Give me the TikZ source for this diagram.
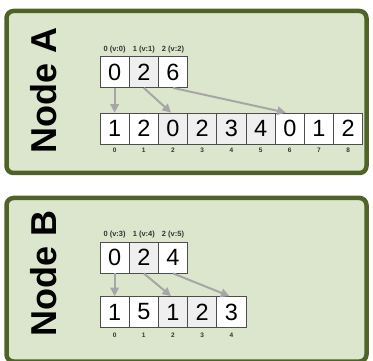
\documentclass[tikz,border=0pt]{standalone}
\usepackage{fontspec}
\setmainfont{Liberation Sans}
\usetikzlibrary{arrows.meta}
\definecolor{panelfill}{HTML}{DCE6CD}
\definecolor{panelborder}{HTML}{4F6228}
\definecolor{cellgray}{HTML}{EFEFEF}
\definecolor{celledge}{HTML}{4D4D4D}
\definecolor{arrowgray}{HTML}{A6A6A6}
\definecolor{labelgray}{HTML}{333333}
\begin{document}
\begin{tikzpicture}[x=1pt,y=-1pt,
  panel/.style={draw=panelborder, fill=panelfill, line width=4.5pt, rounded corners=7pt},
  cell/.style={draw=celledge, line width=0.8pt, fill=white, minimum width=29.2pt, minimum height=31pt, inner sep=0pt, font=\fontsize{23.5}{23.5}\selectfont, text=black},
  graycell/.style={cell, fill=cellgray},
  titletext/.style={rotate=90, font=\fontsize{36}{36}\selectfont\bfseries, inner sep=0pt},
  toplabel/.style={font=\fontsize{7.5}{7.5}\selectfont\bfseries, text=labelgray, inner sep=0pt},
  idx/.style={font=\fontsize{6.5}{6.5}\selectfont\bfseries, text=labelgray, inner sep=0pt},
  ptr/.style={draw=arrowgray, line width=2pt, -{Triangle[length=8.5pt,width=8.5pt]}}
]
\useasboundingbox (0,0) rectangle (373,361);
% panels
\draw[panel] (6.5,11) rectangle (366.5,173);
\draw[panel] (6.5,198) rectangle (366.5,361.5);
% titles
\node[titletext] (titleA) at (44,90.5) {Node A};
\node[titletext] (titleB) at (44,273) {Node B};

% ---------- Node A ----------
\node[cell]     (at0) at (114.6,72) {0};
\node[graycell] (at1) at (143.8,72) {2};
\node[cell]     (at2) at (173.0,72) {6};
\node[toplabel] (alab0) at (114.6,49.5) {0 (v:0)};
\node[toplabel] (alab1) at (143.8,49.5) {1 (v:1)};
\node[toplabel] (alab2) at (173.0,49.5) {2 (v:2)};

\node[cell]     (ab0) at (114.6,128.5) {1};
\node[cell]     (ab1) at (143.8,128.5) {2};
\node[graycell] (ab2) at (173.0,128.5) {0};
\node[graycell] (ab3) at (202.2,128.5) {2};
\node[graycell] (ab4) at (231.4,128.5) {3};
\node[graycell] (ab5) at (260.6,128.5) {4};
\node[cell]     (ab6) at (289.8,128.5) {0};
\node[cell]     (ab7) at (319.0,128.5) {1};
\node[cell]     (ab8) at (348.2,128.5) {2};
\foreach \k/\xx in {0/114.6,1/143.8,2/173.0,3/202.2,4/231.4,5/260.6,6/289.8,7/319.0,8/348.2}
  \node[idx] (aidx\k) at (\xx,150.5) {\k};

\draw[ptr] (at0.south) -- (ab0.north);
\draw[ptr] (at1.south) -- ([xshift=-2pt]ab2.north);
\draw[ptr] (at2.south) -- ([xshift=-4pt]ab6.north);

% ---------- Node B ----------
\node[cell]     (bt0) at (114.6,257.5) {0};
\node[graycell] (bt1) at (143.8,257.5) {2};
\node[cell]     (bt2) at (173.0,257.5) {4};
\node[toplabel] (blab0) at (114.6,234.5) {0 (v:3)};
\node[toplabel] (blab1) at (143.8,234.5) {1 (v:4)};
\node[toplabel] (blab2) at (173.0,234.5) {2 (v:5)};

\node[cell]     (bb0) at (114.6,312) {1};
\node[cell]     (bb1) at (143.8,312) {5};
\node[graycell] (bb2) at (173.0,312) {1};
\node[graycell] (bb3) at (202.2,312) {2};
\node[cell]     (bb4) at (231.4,312) {3};
\foreach \k/\xx in {0/114.6,1/143.8,2/173.0,3/202.2,4/231.4}
  \node[idx] (bidx\k) at (\xx,335) {\k};

\draw[ptr] (bt0.south) -- (bb0.north);
\draw[ptr] (bt1.south) -- ([xshift=-2pt]bb2.north);
\draw[ptr] (bt2.south) -- ([xshift=-2pt]bb4.north);
\end{tikzpicture}
\end{document}
